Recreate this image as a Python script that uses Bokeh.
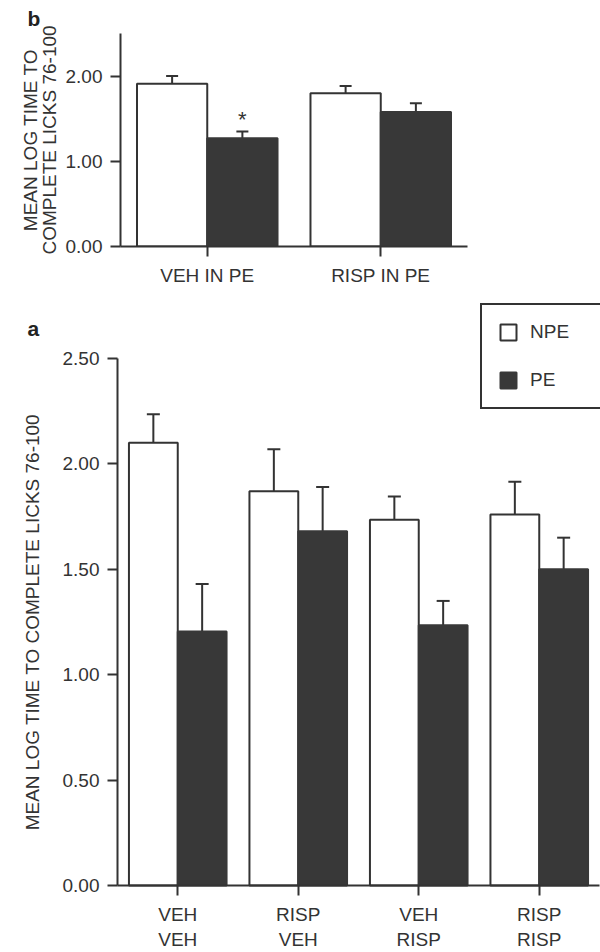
from bokeh.plotting import figure
from bokeh.models import (FixedTicker, Legend, LegendItem, ColumnDataSource, Title, Label,
                          Range1d, NumeralTickFormatter, Whisker, TeeHead)
from bokeh.embed import file_html
from bokeh.resources import INLINE
from bokeh.core.properties import value

FONT = "Liberation Sans"
INK = "#333333"
DARK = "#383838"
FS = "19px"

# ---------------- data ----------------
# panel b
b_groups = ["VEH IN PE", "RISP IN PE"]
b_npe_mean = [1.91, 1.80]
b_npe_sem = [0.09, 0.085]
b_pe_mean = [1.27, 1.58]
b_pe_sem = [0.08, 0.10]
b_sig = ["*", ""]
b_yticks = [0, 1, 2]

# panel a
a_groups = ["VEH\nVEH", "RISP\nVEH", "VEH\nRISP", "RISP\nRISP"]
a_npe_mean = [2.10, 1.87, 1.735, 1.76]
a_npe_sem = [0.135, 0.20, 0.11, 0.155]
a_pe_mean = [1.205, 1.68, 1.235, 1.50]
a_pe_sem = [0.225, 0.21, 0.115, 0.15]
a_yticks = [0, 0.5, 1.0, 1.5, 2.0, 2.5]

series_names = ["NPE", "PE"]

BW = 0.405


def style_axes(p, yticks, label, label_standoff, xlabels):
    n = len(xlabels)
    for ax in (p.xaxis[0], p.yaxis[0]):
        ax.axis_line_color = INK
        ax.axis_line_width = 2
        ax.major_tick_line_color = INK
        ax.major_tick_line_width = 2
        ax.major_tick_in = 0
        ax.major_tick_out = 10
        ax.minor_tick_line_color = None
        ax.major_label_text_font = FONT
        ax.major_label_text_font_size = FS
        ax.major_label_text_color = INK
    p.yaxis[0].ticker = FixedTicker(ticks=yticks)
    p.yaxis[0].formatter = NumeralTickFormatter(format="0.00")
    p.yaxis[0].major_label_standoff = 8
    p.yaxis[0].axis_label = label
    p.yaxis[0].axis_label_text_font = FONT
    p.yaxis[0].axis_label_text_font_size = FS
    p.yaxis[0].axis_label_text_font_style = "normal"
    p.yaxis[0].axis_label_text_color = INK
    p.yaxis[0].axis_label_text_line_height = 0.9
    p.yaxis[0].axis_label_standoff = label_standoff
    p.xaxis[0].ticker = FixedTicker(ticks=list(range(1, n + 1)))
    p.xaxis[0].major_label_overrides = {i + 1: lab for i, lab in enumerate(xlabels)}
    p.xaxis[0].major_label_standoff = 8
    p.xgrid.grid_line_color = None
    p.ygrid.grid_line_color = None
    p.outline_line_color = None


def draw_bars(p, npe_mean, npe_sem, pe_mean, pe_sem, cap):
    n = len(npe_mean)
    xs = list(range(1, n + 1))
    s_npe = ColumnDataSource(dict(x=[x - BW / 2 for x in xs], top=npe_mean,
                                  cap=[m + s for m, s in zip(npe_mean, npe_sem)]))
    s_pe = ColumnDataSource(dict(x=[x + BW / 2 for x in xs], top=pe_mean,
                                 cap=[m + s for m, s in zip(pe_mean, pe_sem)]))
    r1 = p.vbar(x="x", top="top", bottom=0, width=BW, source=s_npe,
                fill_color="white", line_color=INK, line_width=2)
    r2 = p.vbar(x="x", top="top", bottom=0, width=BW, source=s_pe,
                fill_color=DARK, line_color=DARK, line_width=2)
    for s in (s_npe, s_pe):
        w = Whisker(base="x", lower="top", upper="cap", source=s, dimension="height",
                    lower_head=None,
                    upper_head=TeeHead(size=cap, line_width=2, line_color=INK),
                    line_width=2, line_color=INK)
        p.add_layout(w)
    return r1, r2, s_pe


# ---------------- panel b ----------------
pb = figure(width=600, height=290, output_backend="svg", toolbar_location=None,
            x_range=Range1d(0.5, 2.5), y_range=Range1d(0, 2.5),
            min_border_left=120, min_border_right=133, min_border_top=33,
            min_border_bottom=44, background_fill_color="white")
style_axes(pb, b_yticks, "MEAN LOG TIME TO\nCOMPLETE LICKS 76-100", 3, b_groups)
pb.title = Title(text="b", align="left", offset=-93, standoff=8, vertical_align="bottom",
                 text_font=FONT, text_font_size="21px", text_font_style="bold",
                 text_color="#222222")
_, _, spe_b = draw_bars(pb, b_npe_mean, b_npe_sem, b_pe_mean, b_pe_sem, 12)
spe_b.data["sig"] = b_sig
pb.text(x="x", y="cap", text="sig", source=spe_b, text_font=value(FONT),
        text_font_size="22px", text_color=INK, text_align="center",
        text_baseline="alphabetic", y_offset=-12)

# ---------------- panel a ----------------
# frame covers the whole canvas; axes are pinned with fixed_location
W_A, H_A = 600, 662
PX_X = 120.5          # px per category unit
PX_Y = 210.8          # px per value unit
X0_PX, Y0_PX = 117, 595   # where x=0.5 / y=0 sit on the canvas
x_start = 0.5 - X0_PX / PX_X
x_end = x_start + W_A / PX_X
y_start = -(H_A - Y0_PX) / PX_Y
y_end = y_start + H_A / PX_Y
pa = figure(width=W_A, height=H_A, output_backend="svg", toolbar_location=None,
            x_range=Range1d(x_start, x_end), y_range=Range1d(y_start, y_end),
            min_border_left=0, min_border_right=0, min_border_top=0,
            min_border_bottom=0, background_fill_color="white")
style_axes(pa, a_yticks, "MEAN LOG TIME TO COMPLETE LICKS 76-100", 17, a_groups)
pa.yaxis[0].fixed_location = 0.5
pa.yaxis[0].bounds = (0, 2.5)
pa.xaxis[0].fixed_location = 0
pa.xaxis[0].bounds = (0.5, 4.5)
r_npe, r_pe, _ = draw_bars(pa, a_npe_mean, a_npe_sem, a_pe_mean, a_pe_sem, 13)

legend = Legend(items=[LegendItem(label=series_names[0], renderers=[r_npe]),
                       LegendItem(label=series_names[1], renderers=[r_pe])],
                location=(480, 543), margin=0, padding=16, spacing=26,
                glyph_width=20, glyph_height=20, label_height=20, label_width=55,
                label_standoff=12, border_line_color=INK, border_line_width=2,
                border_line_alpha=1.0,
                label_text_font=FONT, label_text_font_size=FS, label_text_color=INK,
                background_fill_alpha=1.0)
pa.add_layout(legend)
pa.add_layout(Label(x=27, y=H_A - 38, x_units="screen", y_units="screen", text="a",
                    text_font=FONT, text_font_size="21px", text_font_style="bold",
                    text_color="#222222", text_baseline="alphabetic"))

open("out.html", "w").write(file_html([pb, pa], INLINE))
